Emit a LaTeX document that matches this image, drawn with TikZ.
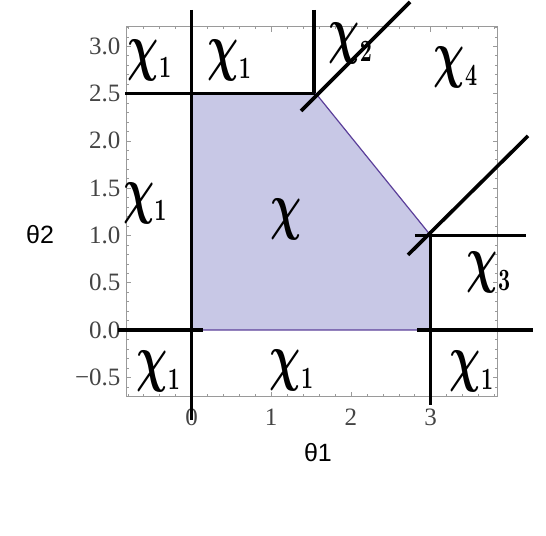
\documentclass[tikz,border=0pt]{standalone}
\usepackage{fontspec}
\setmainfont{Liberation Serif}
\setsansfont{Liberation Sans}
\usepackage{graphicx}
\usepackage{tikz}
\definecolor{RFill}{HTML}{C8C8E6}
\definecolor{REdge}{HTML}{5B3F9A}
\definecolor{RFrame}{HTML}{9A9A9A}
\definecolor{RTick}{HTML}{444444}
\newcommand{\handchi}[1]{\scalebox{2.1}[3.1]{$\chi_{\scriptscriptstyle #1}$}}

\begin{document}
\begin{tikzpicture}[
  x=79.7pt,y=94.6pt,
  region/.style={fill=RFill,draw=REdge,line width=1.2pt},
  ink/.style={line width=3.6pt,black},
  framebox/.style={draw=RFrame,line width=0.7pt},
  ticklab/.style={font=\fontsize{25}{28}\selectfont\color{RTick},inner sep=0pt},
  axlab/.style={font=\sffamily\fontsize{25}{28}\selectfont},
  hand/.style={font=\fontsize{20}{22}\selectfont\boldmath,inner sep=0pt}
]
  \useasboundingbox (-2.403,-2.178) rectangle (4.448,3.488);

  % feasible region
  \fill[region] (0,0) -- (0,2.5) -- (1.56,2.5) -- (3,1) -- (3,0) -- cycle;

  % frame with ticks on all four sides
  \draw[framebox] (-0.816,-0.705) rectangle (3.84,3.206);
  \foreach \i in {-4,...,19} {
    \draw[RFrame] ({\i/5},-0.705) -- ++(0,2.5pt);
    \draw[RFrame] ({\i/5},3.206) -- ++(0,-2.5pt);
  }
  \foreach \i in {-7,...,32} {
    \draw[RFrame] (-0.816,{\i/10}) -- ++(2.5pt,0);
    \draw[RFrame] (3.84,{\i/10}) -- ++(-2.5pt,0);
  }
  \foreach \v in {0,1,2,3} {
    \draw[RFrame] (\v,-0.705) -- ++(0,5pt);
    \draw[RFrame] (\v,3.206) -- ++(0,-5pt);
  }
  \foreach \v in {-0.5,0,0.5,1,1.5,2,2.5,3} {
    \draw[RFrame] (-0.816,\v) -- ++(5pt,0);
    \draw[RFrame] (3.84,\v) -- ++(-5pt,0);
  }

  % tick labels
  \foreach \v [count=\k] in {0,1,2,3}
    \node[ticklab,anchor=north] (xtick\k) at (\v,-0.83) {\v};
  \foreach \v/\s [count=\k] in {3/3.0,2.5/2.5,2/2.0,1.5/1.5,1/1.0,0.5/0.5,0/0.0,-0.5/{−0.5}}
    \node[ticklab,anchor=east] (ytick\k) at (-0.89,\v) {\s};

  % axis labels
  \node[axlab] (theta2) at (-1.901,1.004) {θ2};
  \node[axlab] (theta1) at (1.587,-1.300) {θ1};

  % hand-drawn boundaries
  \draw[ink] (0,3.383) -- (0,-0.951);
  \draw[ink] (-0.834,2.5) -- (1.55,2.5);
  \draw[ink] (1.537,3.383) -- (1.537,2.5);
  \draw[ink] (1.374,2.315) -- (2.742,3.467);
  \draw[ink] (2.716,0.793) -- (4.222,2.051);
  \draw[ink] (2.804,1) -- (4.197,1);
  \draw[ink] (3,1.05) -- (3,-0.793);
  \draw[ink] (-0.922,0) -- (0.144,0);
  \draw[ink] (2.829,0) -- (4.285,0);

  % hand-written region labels
  \node[hand] (chiA) at (-0.52,2.854) {\handchi{1}};
  \node[hand] (chiB) at (0.48,2.844) {\handchi{1}};
  \node[hand] (chiC) at (2.0,3.03) {\handchi{2}};
  \node[hand] (chiD) at (3.319,2.77) {\handchi{4}};
  \node[hand] (chiE) at (-0.58,1.342) {\handchi{1}};
  \node[hand] (chiF) at (1.198,1.163) {\handchi{}};
  \node[hand] (chiG) at (3.733,0.603) {\handchi{3}};
  \node[hand] (chiH) at (-0.41,-0.444) {\handchi{1}};
  \node[hand] (chiI) at (1.261,-0.433) {\handchi{1}};
  \node[hand] (chiJ) at (3.519,-0.444) {\handchi{1}};
\end{tikzpicture}
\end{document}
